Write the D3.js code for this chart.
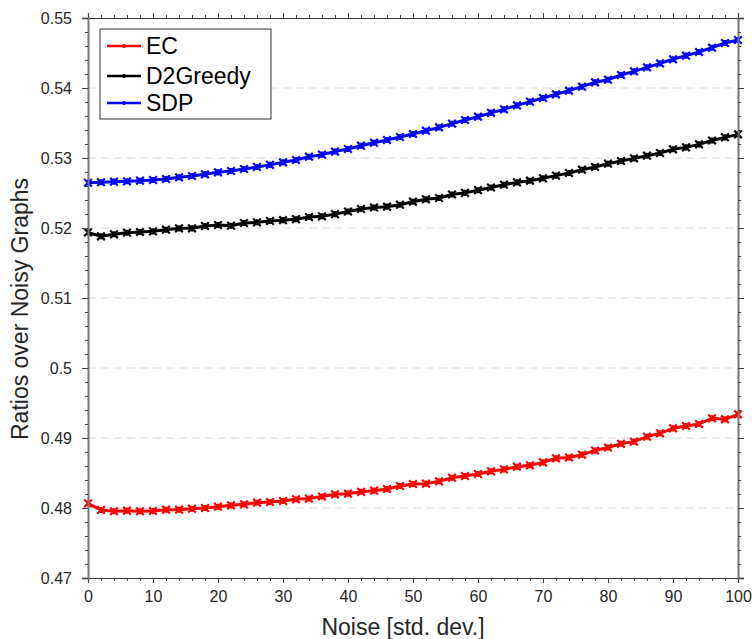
<!DOCTYPE html>
<html><head><meta charset="utf-8">
<script src="https://cdn.jsdelivr.net/npm/d3@7"></script>
<style>body{margin:0;background:#fff}svg{display:block}text{font-family:"Liberation Sans",Arial,sans-serif}</style>
</head><body><svg id="c" width="752" height="639"></svg>
<script>
const noise = d3.range(0, 101, 2);
const seriesNames = ["EC", "D2Greedy", "SDP"];
const ecValues = [0.48067,0.47971,0.47953,0.47962,0.47953,0.47957,0.47976,0.47976,0.4799,0.4800,0.48019,0.48038,0.48052,0.48076,0.48086,0.4810,0.48124,0.48135,0.48164,0.48195,0.48205,0.48231,0.48248,0.48271,0.48314,0.48343,0.48348,0.48381,0.48433,0.48457,0.48486,0.48524,0.48552,0.4859,0.4861,0.48652,0.4871,0.48722,0.48762,0.48821,0.48864,0.48917,0.48948,0.49019,0.49067,0.49138,0.49171,0.492,0.49281,0.49267,0.49338];
const d2Values = [0.51938,0.51881,0.5191,0.51933,0.51943,0.51952,0.51976,0.51995,0.51995,0.52029,0.52043,0.52033,0.52071,0.52081,0.521,0.52112,0.52126,0.52157,0.52167,0.52198,0.52236,0.52272,0.52293,0.52305,0.52333,0.52376,0.5241,0.52429,0.52478,0.52502,0.5254,0.52578,0.52619,0.52652,0.52676,0.5271,0.52748,0.52786,0.52833,0.52871,0.52919,0.52957,0.52995,0.53033,0.53071,0.53124,0.53152,0.53195,0.5325,0.53295,0.53338];
const sdpValues = [0.52647,0.52653,0.52662,0.52667,0.52676,0.52686,0.527,0.52724,0.52743,0.52767,0.52795,0.52814,0.52843,0.52871,0.52902,0.52938,0.52971,0.53019,0.53048,0.53092,0.53129,0.53176,0.53219,0.53257,0.533,0.53343,0.5339,0.53438,0.5349,0.53543,0.5359,0.53645,0.53695,0.53752,0.53805,0.53857,0.5391,0.53962,0.54019,0.54081,0.54119,0.54186,0.54238,0.54295,0.54352,0.5441,0.54462,0.54514,0.54576,0.54643,0.54686];
const colors = ["#ff0000", "#000000", "#0000ff"];
const xTicks = [0,10,20,30,40,50,60,70,80,90,100];
const yTicks = [0.47,0.48,0.49,0.5,0.51,0.52,0.53,0.54,0.55];
const xTitle = "Noise [std. dev.]";
const yTitle = "Ratios over Noisy Graphs";

const svg = d3.select("#c");
const L = 88, R = 738, T = 18, B = 578;
const x = d3.scaleLinear().domain([0,100]).range([L,R]);
const y = d3.scaleLinear().domain([0.47,0.55]).range([B,T]);
const textCol = "#262626";

// gridlines
svg.append("g").selectAll("line").data(yTicks.slice(1,-1)).join("line")
  .attr("x1",L).attr("x2",R).attr("y1",d=>y(d)).attr("y2",d=>y(d))
  .attr("stroke","#dcdcdc").attr("stroke-width",1).attr("stroke-dasharray","8,5");

// series
const all = [ecValues, d2Values, sdpValues];
const line = d3.line().x((d,i)=>x(noise[i])).y(d=>y(d));
all.forEach((vals,k)=>{
  const g = svg.append("g");
  g.append("path").datum(vals).attr("d",line).attr("fill","none")
    .attr("stroke",colors[k]).attr("stroke-width",3).attr("stroke-linejoin","round");
  const s = 3.8;
  g.selectAll("path.m").data(vals).join("path").attr("class","m")
    .attr("d",(d,i)=>{const cx=x(noise[i]),cy=y(d);return `M${cx-s},${cy-s}L${cx+s},${cy+s}M${cx-s},${cy+s}L${cx+s},${cy-s}M${cx},${cy-s*0.8}L${cx},${cy+s*0.8}`;})
    .attr("stroke",colors[k]).attr("stroke-width",2.2).attr("fill","none");
});

// axes (outward ticks on all sides)
const xMinor = d3.range(0,101,2).filter(v=>v%10!==0);
const yMinor = d3.range(0,41).map(i=>0.47+i*0.002).filter((v,i)=>i%5!==0);
const axB = svg.append("g").attr("transform",`translate(0,${B})`)
  .call(d3.axisBottom(x).tickValues(xTicks).tickSize(5).tickFormat(d3.format("d")).tickPadding(8));
const axT = svg.append("g").attr("transform",`translate(0,${T})`)
  .call(d3.axisTop(x).tickValues(xTicks).tickSize(5).tickFormat(""));
const axL = svg.append("g").attr("transform",`translate(${L},0)`)
  .call(d3.axisLeft(y).tickValues(yTicks).tickSize(6).tickFormat(d=>d3.format("")(+d.toFixed(2))).tickPadding(10));
const axR = svg.append("g").attr("transform",`translate(${R},0)`)
  .call(d3.axisRight(y).tickValues(yTicks).tickSize(6).tickFormat(""));
svg.append("g").attr("transform",`translate(0,${B})`).call(d3.axisBottom(x).tickValues(xMinor).tickSize(3).tickFormat("")).select(".domain").remove();
svg.append("g").attr("transform",`translate(0,${T})`).call(d3.axisTop(x).tickValues(xMinor).tickSize(3).tickFormat("")).select(".domain").remove();
svg.append("g").attr("transform",`translate(${L},0)`).call(d3.axisLeft(y).tickValues(yMinor).tickSize(3).tickFormat("")).select(".domain").remove();
svg.append("g").attr("transform",`translate(${R},0)`).call(d3.axisRight(y).tickValues(yMinor).tickSize(3).tickFormat("")).select(".domain").remove();
svg.selectAll(".tick line").attr("stroke","#444");
[axB,axT].forEach(a=>a.select(".domain").attr("stroke","#333").attr("stroke-width",1.2));
[axL,axR].forEach(a=>a.select(".domain").attr("stroke","#777").attr("stroke-width",2));
svg.selectAll(".tick text").attr("font-size",16).attr("fill",textCol).attr("font-family",'"Liberation Sans",Arial,sans-serif');

// titles
svg.append("text").attr("x",403).attr("y",635).attr("text-anchor","middle")
  .attr("font-size",23).attr("fill",textCol).text(xTitle);
svg.append("text").attr("transform",`translate(28,309) rotate(-90)`).attr("text-anchor","middle")
  .attr("font-size",23).attr("fill",textCol).text(yTitle);

// legend
const lg = svg.append("g");
lg.append("rect").attr("x",100).attr("y",29).attr("width",171).attr("height",90)
  .attr("fill","#fff").attr("stroke","#333").attr("stroke-width",1);
const ly = [46, 76, 103];
seriesNames.forEach((n,k)=>{
  lg.append("line").attr("x1",107).attr("x2",141).attr("y1",ly[k]).attr("y2",ly[k])
    .attr("stroke",colors[k]).attr("stroke-width",2.5);
  lg.append("circle").attr("cx",124).attr("cy",ly[k]).attr("r",2).attr("fill",colors[k]);
  lg.append("text").attr("x",146).attr("y",ly[k]).attr("dy","0.36em")
    .attr("font-size",23).attr("fill","#000").text(n);
});
</script></body></html>
